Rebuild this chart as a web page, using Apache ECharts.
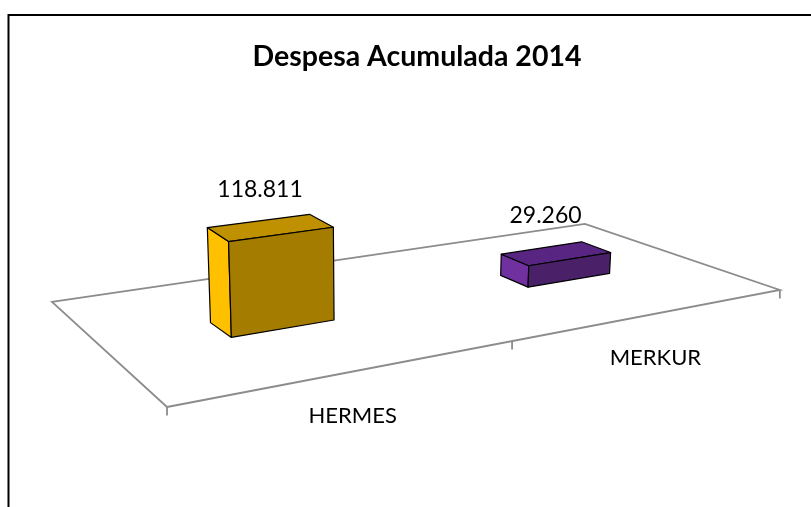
<!DOCTYPE html>
<html>
<head>
<meta charset="utf-8">
<style>html,body{margin:0;padding:0;background:#fff}#chart{width:811px;height:507px}</style>
<script src="https://cdn.jsdelivr.net/npm/echarts@6/dist/echarts.min.js"></script>
</head>
<body>
<div id="chart"></div>
<script>
var titleText = 'Despesa Acumulada 2014';
var categories = ['HERMES', 'MERKUR'];
var values = [118811, 29260];
var valueLabels = ['118.811', '29.260'];
var sideColors = ['#FFC000', '#7030A0'];
var topColors = ['#BF9000', '#582682'];
var frontColors = ['#A47C00', '#4A2169'];

// Perspective floor of the 3D plot: unit square (s,t) to screen.
var H = {a: 838, b: -101.7, c: 167, d: -33.3, e: -27.8, f: 407, g: 0.2887, h: 0.2557};
var FLOOR_LEFT = 167, FLOOR_WIDTH = 613, VP_X = 370;
function project(s, t, hPx) {
  var den = H.g * s + H.h * t + 1;
  var x = (H.a * s + H.b * t + H.c) / den;
  var y = (H.d * s + H.e * t + H.f) / den;
  var lift = (hPx || 0) / (1 + 0.22 * s + 0.06 * t);
  return [x + (x - VP_X) * 0.02 * lift / 96, y - lift];
}
var FONT = 'Lato, Carlito, "Open Sans", sans-serif';
var BAR_HALF = 0.08, T0 = 0.415, T1 = 0.57;

function sOf(api, i) { return (api.coord([i, 0])[0] - FLOOR_LEFT) / FLOOR_WIDTH; }

function face(points, fill) {
  return {type: 'polygon', shape: {points: points},
    style: {fill: fill, stroke: '#000', lineWidth: 1.2, lineJoin: 'round'}};
}

function renderFloor(params, api) {
  if (params.dataIndex !== 0) return {type: 'group', children: []};
  var line = {stroke: '#8c8c8c', lineWidth: 1.8, fill: 'none'};
  var mk = function (pts) { return {type: 'polyline', shape: {points: pts}, style: line}; };
  var children = [mk([project(0, 0), project(1, 0), project(1, 1), project(0, 1), project(0, 0)])];
  [0, 0.5, 1].forEach(function (s) {
    var p = project(s, 0);
    children.push(mk([p, [p[0], p[1] + 8.5]]));
  });
  return {type: 'group', children: children};
}

function renderBar(params, api) {
  var i = api.value(0), v = api.value(1);
  var s = sOf(api, i);
  var hPx = api.coord([i, 0])[1] - api.coord([i, v])[1];
  var s0 = s - BAR_HALF, s1 = s + BAR_HALF;
  var E = project(s0, T1), F = project(s0, T0), G = project(s1, T0);
  var A = project(s0, T1, hPx), B = project(s0, T0, hPx), C = project(s1, T0, hPx), D = project(s1, T1, hPx);
  var c = project(s, (T0 + T1) / 2, hPx);
  var lab = project(s, 0);
  return {type: 'group', children: [
    face([A, B, F, E], sideColors[i]),
    face([A, D, C, B], topColors[i]),
    face([B, C, G, F], frontColors[i]),
    {type: 'text', x: c[0] - 10.5, y: c[1] - 38,
      style: {text: valueLabels[i], fill: '#000', font: '400 23px ' + FONT, textAlign: 'center', textVerticalAlign: 'middle'}},
    {type: 'text', x: lab[0] + 1.5, y: lab[1] + 44,
      style: {text: categories[i], fill: '#000', font: '400 22px ' + FONT, textAlign: 'center', textVerticalAlign: 'middle'}}
  ]};
}

var chart = echarts.init(document.getElementById('chart'), null, {renderer: 'canvas'});
var rows = categories.map(function (c, i) { return [i, values[i]]; });
chart.setOption({
  animation: false,
  backgroundColor: '#fff',
  title: {text: titleText, left: 412, top: 52, textAlign: 'center', textVerticalAlign: 'middle',
    textStyle: {fontFamily: FONT, fontWeight: 'bold', fontSize: 28.5, color: '#000'}},
  grid: {left: FLOOR_LEFT, width: FLOOR_WIDTH, top: 150, height: 120},
  xAxis: {type: 'category', data: categories, show: false},
  yAxis: {type: 'value', min: 0, max: 140000, show: false},
  graphic: [{type: 'polyline', silent: true, shape: {points: [[8.5, 507], [8.5, 15], [811, 15]]},
    style: {stroke: '#000', lineWidth: 2, fill: 'none'}}],
  series: [
    {type: 'custom', renderItem: renderFloor, data: rows, silent: true, z: 1},
    {type: 'custom', renderItem: renderBar, data: rows, silent: true, z: 2}
  ]
});
</script>
</body>
</html>
